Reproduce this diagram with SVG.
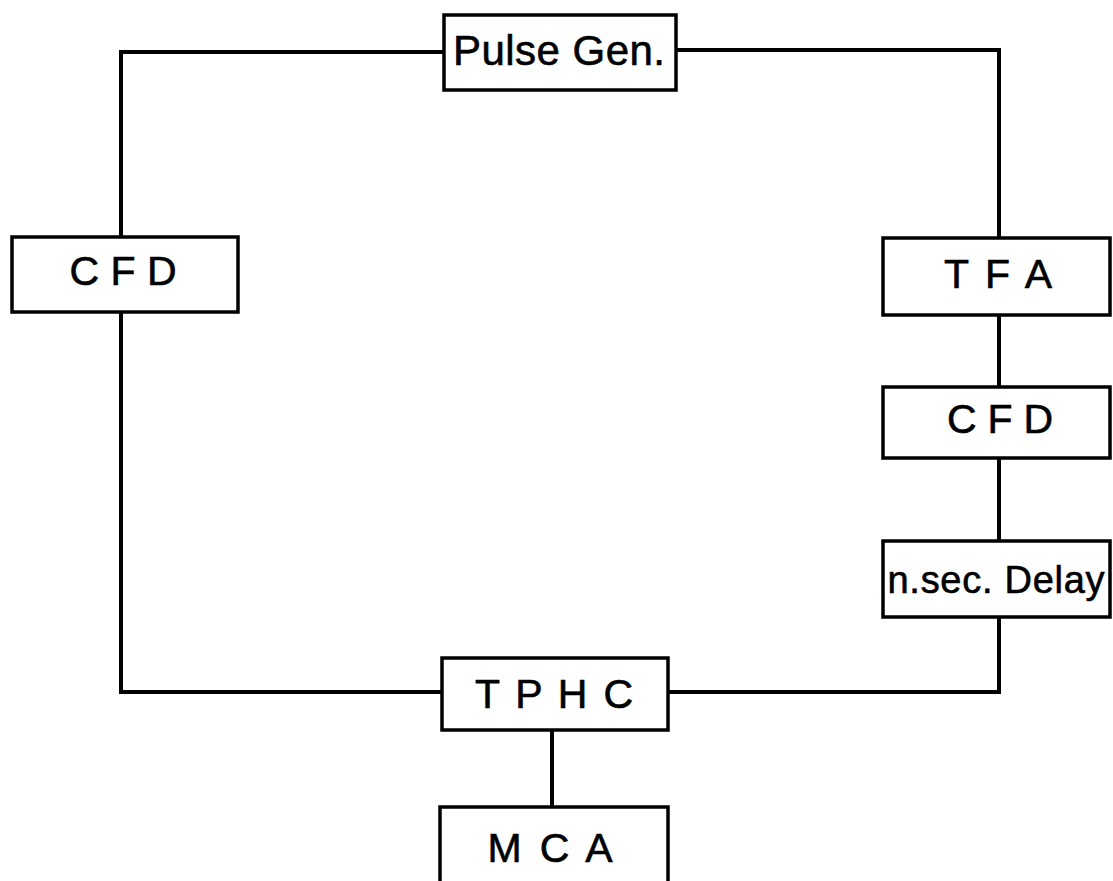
<svg xmlns="http://www.w3.org/2000/svg" width="1113" height="881" viewBox="0 0 1113 881">
<style>
.box{fill:#fff;stroke:#000;stroke-width:3.5}
.lbl{font-family:"Liberation Sans",Arial,sans-serif;font-size:41px;fill:#000;stroke:#000;stroke-width:0.6}
.conn{fill:none;stroke:#000;stroke-width:4;stroke-linejoin:miter}
</style>
<rect width="1113" height="881" fill="#fff"/>
<g id="connectors">
<path class="conn" d="M444,52 H121 V237"/>
<path class="conn" d="M121,312 V692 H442"/>
<path class="conn" d="M676,50 H999 V238"/>
<path class="conn" d="M999,315 V387"/>
<path class="conn" d="M999,458 V541"/>
<path class="conn" d="M999,617 V692 H668"/>
<path class="conn" d="M552,730 V807"/>
</g>
<g id="pulse-gen">
<rect class="box" x="444" y="15" width="232" height="75"/>
<text class="lbl" x="559" y="65" text-anchor="middle" style="font-size:42px" textLength="212">Pulse Gen.</text>
</g>
<g id="cfd-left">
<rect class="box" x="12" y="237" width="226" height="75"/>
<text class="lbl" x="123" y="285" text-anchor="middle" textLength="107">C F D</text>
</g>
<g id="tfa">
<rect class="box" x="883" y="238" width="227" height="77"/>
<text class="lbl" x="998" y="288" text-anchor="middle" textLength="108">T F A</text>
</g>
<g id="cfd-right">
<rect class="box" x="883" y="387" width="227" height="71"/>
<text class="lbl" x="1000" y="433" text-anchor="middle" textLength="106">C F D</text>
</g>
<g id="delay">
<rect class="box" x="883" y="541" width="227" height="76"/>
<text class="lbl" x="996" y="593" text-anchor="middle" style="font-size:38px" textLength="217">n.sec. Delay</text>
</g>
<g id="tphc">
<rect class="box" x="442" y="658" width="226" height="72"/>
<text class="lbl" x="554" y="708" text-anchor="middle" textLength="158">T P H C</text>
</g>
<g id="mca">
<rect class="box" x="440" y="807" width="228" height="90"/>
<text class="lbl" x="550" y="862" text-anchor="middle" textLength="125">M C A</text>
</g>
</svg>
